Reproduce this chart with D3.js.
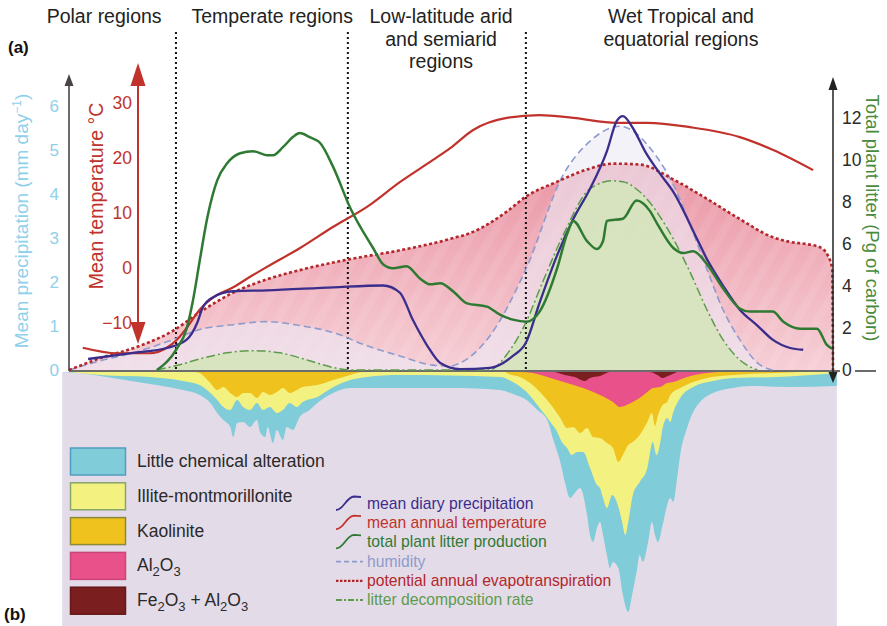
<!DOCTYPE html>
<html>
<head>
<meta charset="utf-8">
<script src="https://cdn.jsdelivr.net/npm/d3@7"></script>
<style>
  body { margin: 0; background: #fff; }
  svg { display: block; font-family: "Liberation Sans", Arial, sans-serif; }
</style>
</head>
<body>
<svg id="chart" width="887" height="626"></svg>
<script>
// position along the transect is 0..100 (pole -> equator)

// panel (a) curves: [position, value]
const precipitation = [[2.5,0.25],[8.4,0.39],[12.8,0.50],[15.4,0.69],[16.8,1.08],[17.5,1.42],[18.8,1.65],[21.5,1.79],[25.9,1.81],[34.6,1.88],[41.1,1.92],[43.3,1.76],[45.0,1.14],[46.9,0.55],[48.6,0.16],[51.2,0.02],[55.1,0.05],[58.1,0.32],[59.8,0.62],[61.6,1.53],[63.9,2.61],[66.0,3.43],[68.2,4.12],[70.4,4.97],[71.7,5.66],[72.5,5.77],[73.8,5.50],[75.4,4.97],[77.4,4.45],[79.1,4.05],[82.2,2.98],[83.5,2.52],[85.6,1.92],[87.8,1.37],[90.1,1.01],[92.1,0.69],[94.4,0.50],[96.1,0.46]];
const temperature = [[1.8,-14.5],[6.3,-15.5],[10.6,-15.5],[12.8,-14.5],[14.1,-13.1],[15.4,-10.9],[17.1,-7.6],[19.4,-4.9],[21.5,-3.5],[23.7,-1.6],[25.9,0.2],[30.2,3.6],[34.6,7.5],[39.0,11.1],[43.3,15.6],[47.6,19.6],[49.9,21.8],[52.9,25.1],[57.3,27.3],[61.6,27.8],[66.0,27.3],[71.7,26.4],[75.7,26.4],[81.3,25.6],[87.8,23.8],[92.1,21.5],[97.4,17.8]];
const litter = [[11.5,0],[14.1,1.01],[15.4,1.97],[16.2,3.26],[17.1,5.18],[18.1,7.25],[19.4,9.03],[20.7,9.84],[22.4,10.32],[24.1,10.42],[25.9,10.23],[26.7,10.23],[28.0,10.61],[29.3,11.09],[30.2,11.28],[31.5,11.09],[32.9,10.80],[34.6,9.65],[36.8,7.73],[39.8,5.81],[41.1,5.04],[42.4,4.85],[44.2,4.94],[45.9,4.37],[47.3,4.08],[48.6,4.13],[50.3,3.74],[52.1,3.17],[54.7,3.02],[56.4,2.64],[58.1,2.40],[59.9,2.30],[61.6,2.78],[63.9,4.85],[65.2,6.48],[66.0,7.1],[67.8,6.14],[69.1,5.76],[69.9,6.14],[70.4,7.1],[72.5,7.2],[74.3,8.07],[76.0,7.59],[77.0,6.96],[79.1,5.81],[80.4,5.57],[81.7,5.66],[83.5,5.04],[85.6,3.89],[87.8,2.93],[89.1,2.78],[92.1,2.78],[93.5,2.30],[95.7,1.97],[97.9,1.97],[99.2,1.20],[99.9,1.01]];
const humidity = [[0,0],[4.1,0.21],[8.4,0.39],[13.6,0.69],[17.1,0.92],[21.5,1.03],[25.9,1.10],[30.2,1.01],[34.6,0.85],[39.0,0.55],[43.3,0.32],[47.6,0.11],[49.9,0.09],[51.2,0.16],[55.1,0.78],[59.8,2.29],[64.7,4.44],[68.2,5.20],[72.1,5.54],[76.4,4.97],[79.1,4.21],[81.3,3.30],[83.5,2.29],[85.6,1.37],[87.8,0.69],[90.1,0.16],[92.1,0]];
const evapotranspiration = [[0,0],[4.1,0.27],[9.3,0.55],[13.6,0.89],[17.1,1.31],[21.5,1.76],[25.9,2.06],[30.2,2.27],[36.8,2.52],[43.3,2.72],[49.9,2.98],[52.9,3.14],[57.3,3.60],[59.8,3.94],[63.9,4.28],[68.2,4.58],[71.2,4.69],[74.7,4.67],[79.1,4.33],[83.5,3.89],[87.8,3.43],[92.1,3.02],[94.4,2.91],[96.6,2.86],[98.3,2.79],[99.3,2.61],[99.9,2.29],[100,0]];
const decomposition = [[11.5,0],[14.5,0.12],[17.1,0.25],[20.7,0.39],[24.1,0.44],[27.6,0.39],[31.5,0.21],[34.5,0.06],[36.8,0],[55.0,0],[57.5,0.4],[59.8,1.08],[62.0,2.0],[64.7,3.07],[68.2,4.12],[71.2,4.30],[72.5,4.28],[74.7,4.05],[79.1,2.98],[81.3,2.22],[83.5,1.37],[85.6,0.69],[87.8,0.23],[90.1,0]];

// panel (b) weathering zones: [position, depth of zone base]
const littleAlteration = [[-0.9,0],[1.2,0.4],[4.1,1.6],[7.3,3.2],[10.6,4.8],[14.9,7.2],[17.1,9.2],[18.5,12.4],[19.4,16.4],[20.2,19.2],[21.1,22.0],[21.5,26.0],[22.0,20.4],[22.8,20.0],[23.7,22.0],[24.6,19.2],[25.0,24.0],[25.7,26.0],[26.0,22.0],[26.7,28.4],[27.2,23.2],[28.0,27.2],[28.5,22.0],[29.3,23.2],[30.2,18.0],[31.5,15.2],[32.5,12.4],[34.6,8.4],[36.8,6.4],[43.3,6.4],[49.9,6.4],[56.4,7.2],[58.1,8.8],[59.9,11.2],[61.3,15.2],[62.6,19.2],[63.4,27.2],[64.3,36.0],[64.9,44.0],[65.6,50.4],[66.0,49.2],[66.9,46.4],[67.8,57.2],[68.2,65.2],[68.6,68.0],[69.1,62.4],[69.5,60.0],[69.9,65.2],[70.4,73.2],[70.8,78.4],[71.2,76.0],[71.9,78.4],[72.5,89.2],[73.2,96.0],[73.7,89.2],[74.3,80.0],[74.7,73.2],[75.1,76.0],[75.8,68.0],[76.3,60.0],[76.7,65.2],[77.1,68.0],[77.7,61.2],[78.3,53.2],[78.7,50.4],[79.1,52.0],[79.6,42.4],[80.0,33.2],[80.9,22.4],[81.7,16.0],[82.6,12.0],[84.3,8.4],[86.9,6.4],[89.1,5.6],[94.4,6.0],[100.5,5.6]];
const illite = [[0,0],[1.2,0.4],[4.1,1.2],[10.6,2.0],[14.9,3.6],[17.1,5.2],[18.5,8.4],[19.4,11.2],[20.2,14.0],[21.1,15.2],[22.0,11.2],[22.8,14.0],[23.7,15.2],[24.6,12.4],[25.4,15.2],[26.3,14.0],[27.2,16.4],[28.0,15.2],[28.9,12.4],[29.8,14.0],[30.6,12.0],[32.5,10.0],[34.6,6.0],[36.8,3.2],[39.0,2.0],[43.3,1.2],[56.4,2.0],[58.1,4.0],[59.9,8.0],[61.6,14.4],[63.0,20.0],[63.9,24.0],[64.5,28.0],[65.2,30.4],[65.8,33.2],[66.5,32.0],[67.3,32.0],[68.2,38.4],[69.1,45.2],[69.5,46.4],[69.9,50.4],[70.4,54.4],[71.1,49.2],[71.7,52.0],[72.4,60.0],[72.8,65.2],[73.2,60.0],[73.8,49.2],[74.7,44.0],[75.7,38.4],[76.0,33.2],[76.4,28.0],[76.9,33.2],[77.4,28.0],[77.7,22.4],[78.3,18.4],[78.7,20.0],[79.1,16.0],[80.0,10.4],[81.7,6.0],[84.3,3.6],[86.9,2.4],[92.7,2.0],[100.5,0.4]];
const kaolinite = [[16.5,0],[17.1,0.4],[18.5,4.4],[19.4,7.2],[20.2,6.0],[21.1,8.4],[22.0,10.0],[22.8,8.4],[23.7,8.4],[24.6,10.4],[25.4,8.0],[26.3,9.2],[27.2,8.0],[28.0,6.4],[28.9,8.4],[29.8,7.2],[30.6,6.0],[32.5,5.2],[34.6,3.2],[36.8,1.2],[38.5,0],[57.1,0],[57.3,0.4],[59.0,2.0],[60.7,5.2],[62.0,9.2],[63.4,14.4],[64.3,18.4],[65.2,22.4],[66.0,22.0],[66.9,24.4],[67.8,22.4],[68.6,26.0],[69.5,26.4],[70.4,28.4],[71.2,30.4],[71.9,36.0],[72.5,33.2],[73.2,29.2],[73.8,28.0],[74.7,25.2],[75.7,20.0],[76.3,16.4],[76.7,21.6],[77.1,17.2],[77.7,13.2],[78.3,12.0],[78.7,9.2],[80.0,6.4],[81.7,4.0],[83.5,2.4],[86.9,1.2],[89.1,0.8],[95.7,0]];
const aluminaZone = [[59.0,0],[60.7,0.4],[63.0,2.4],[65.2,4.4],[67.3,6.4],[69.5,9.2],[71.2,12.0],[72.1,14.0],[73.0,13.2],[73.8,12.0],[74.7,10.4],[75.7,8.0],[76.4,6.4],[77.4,6.0],[78.3,4.4],[79.1,4.0],[80.9,2.0],[82.6,0.8],[85.2,0]];
const ironAluminaZone = [[63.6,0],[64.9,1.2],[66.2,2.0],[67.5,3.6],[68.2,2.4],[69.5,1.6],[70.8,0],[76.0,0],[77.0,1.2],[77.7,2.4],[78.4,1.6],[79.6,0]];

const regionBounds = [14.0, 36.5, 59.8];
const regionNames = [["Polar regions"], ["Temperate regions"], ["Low-latitude arid", "and semiarid", "regions"], ["Wet Tropical and", "equatorial regions"]];
const regionCentres = [4.6, 26.6, 48.7, 80.1];

const precipTicks = [0, 1, 2, 3, 4, 5, 6];
const tempTicks = [-10, 0, 10, 20, 30];
const litterTicks = [0, 2, 4, 6, 8, 10, 12];

const zoneLabels = ["Little chemical alteration", "Illite-montmorillonite", "Kaolinite", "Al2O3", "Fe2O3 + Al2O3"];
const zoneFills = ["#80ccd9", "#f3f17f", "#f0c21d", "#e8518a", "#7a1e1f"];
const zoneStrokes = ["#4f9dbf", "#86a56b", "#8a8a3a", "#c9467c", "#651818"];
const curveLabels = ["mean diary precipitation", "mean annual temperature", "total plant litter production", "humidity", "potential annual evapotranspiration", "litter decomposition rate"];
const curveColors = ["#3b2d8c", "#c0322b", "#2f7a32", "#8e9bcc", "#b3262a", "#5d9b4c"];

const svg = d3.select('#chart');

// scales
const x = d3.scaleLinear().domain([0, 100]).range([69, 833]);
const yPrecip = d3.scaleLinear().domain([0, 6]).range([370, 106]);
const yTemp = d3.scaleLinear().domain([-10, 30]).range([323, 103]);
const yLitter = d3.scaleLinear().domain([0, 12]).range([370, 118]);
const yDepth = d3.scaleLinear().domain([0, 100]).range([372, 622]);

const lineOn = yS => d3.line().x(d => x(d[0])).y(d => yS(d[1])).curve(d3.curveMonotoneX);
const areaOn = yS => d3.area().x(d => x(d[0])).y0(yS(0)).y1(d => yS(d[1])).curve(d3.curveMonotoneX);

// defs: gradient + faint stripes for the evapotranspiration area
const defs = svg.append('defs');
const grad = defs.append('linearGradient').attr('id', 'petGrad')
  .attr('gradientUnits', 'userSpaceOnUse').attr('x1', 0).attr('x2', 0).attr('y1', 160).attr('y2', 370);
grad.append('stop').attr('offset', 0).attr('stop-color', '#ea94a3');
grad.append('stop').attr('offset', 1).attr('stop-color', '#f6cfd6');
const pat = defs.append('pattern').attr('id', 'stripes').attr('patternUnits', 'userSpaceOnUse')
  .attr('width', 18).attr('height', 18).attr('patternTransform', 'rotate(30)');
pat.append('rect').attr('width', 8).attr('height', 18).attr('fill', '#fff').attr('opacity', 0.07);

// ---- panel (b) ----
svg.append('rect')
  .attr('x', x(-0.9)).attr('y', yDepth(0)).attr('width', x(100.5) - x(-0.9)).attr('height', 626 - yDepth(0))
  .attr('fill', '#e4dbe8');

const zoneArea = d3.area().x(d => x(d[0])).y0(yDepth(0)).y1(d => yDepth(d[1])).curve(d3.curveMonotoneX);
[littleAlteration, illite, kaolinite, aluminaZone, ironAluminaZone].forEach((z, i) => {
  svg.append('path').attr('d', zoneArea(z)).attr('fill', zoneFills[i]);
});

// ---- panel (a) fills ----
svg.append('path').attr('d', areaOn(yPrecip)(evapotranspiration)).attr('fill', 'url(#petGrad)');
svg.append('path').attr('d', areaOn(yPrecip)(evapotranspiration)).attr('fill', 'url(#stripes)');
svg.append('path').attr('d', areaOn(yPrecip)(humidity)).attr('fill', '#ece9f5').attr('opacity', 0.6);
svg.append('path').attr('d', areaOn(yPrecip)(decomposition)).attr('fill', '#d6e4bd').attr('opacity', 0.95);

// region boundaries
svg.selectAll('line.bound').data(regionBounds).enter().append('line')
  .attr('x1', d => x(d)).attr('x2', d => x(d)).attr('y1', 32).attr('y2', 371)
  .attr('stroke', '#111').attr('stroke-width', 2).attr('stroke-dasharray', '2,3');

// baseline
svg.append('line').attr('x1', 69).attr('x2', 840).attr('y1', 371).attr('y2', 371)
  .attr('stroke', '#3b3b3b').attr('stroke-width', 1.5);
svg.append('line').attr('x1', 855).attr('x2', 876).attr('y1', 371).attr('y2', 371)
  .attr('stroke', '#3b3b3b').attr('stroke-width', 1.5);

// ---- panel (a) curves ----
svg.append('path').attr('d', lineOn(yPrecip)(humidity)).attr('fill', 'none')
  .attr('stroke', curveColors[3]).attr('stroke-width', 1.6).attr('stroke-dasharray', '7,4');
svg.append('path').attr('d', lineOn(yPrecip)(decomposition)).attr('fill', 'none')
  .attr('stroke', curveColors[5]).attr('stroke-width', 1.5).attr('stroke-dasharray', '9,3,2,3');
svg.append('path').attr('d', lineOn(yPrecip)(evapotranspiration)).attr('fill', 'none')
  .attr('stroke', curveColors[4]).attr('stroke-width', 2.6).attr('stroke-dasharray', '3,2.5');
svg.append('path').attr('d', lineOn(yTemp)(temperature)).attr('fill', 'none')
  .attr('stroke', curveColors[1]).attr('stroke-width', 2.2);
svg.append('path').attr('d', lineOn(yPrecip)(precipitation)).attr('fill', 'none')
  .attr('stroke', curveColors[0]).attr('stroke-width', 2.3);
svg.append('path').attr('d', lineOn(yLitter)(litter)).attr('fill', 'none')
  .attr('stroke', curveColors[2]).attr('stroke-width', 2.5);

// ---- axes ----
const precipAxis = svg.append('g').attr('transform', 'translate(69,0)')
  .call(d3.axisLeft(yPrecip).tickValues(precipTicks).tickFormat(d3.format('d')).tickSize(0).tickPadding(10));
precipAxis.select('.domain').remove();
precipAxis.selectAll('text').attr('fill', '#8fd0ea').style('font-size', '17px').style('font-family', '"Liberation Sans", Arial, sans-serif');

svg.append('line').attr('x1', 69).attr('x2', 69).attr('y1', 371).attr('y2', 84)
  .attr('stroke', '#4a4343').attr('stroke-width', 1.6);
svg.append('path').attr('d', 'M64.5,86 L69,74 L73.5,86 Z').attr('fill', '#4a4343');

const tempAxis = svg.append('g').attr('transform', 'translate(138,0)')
  .call(d3.axisLeft(yTemp).tickValues(tempTicks).tickSize(0).tickPadding(6));
tempAxis.select('.domain').remove();
tempAxis.selectAll('text').attr('fill', '#c0322b').style('font-size', '17.5px').style('font-family', '"Liberation Sans", Arial, sans-serif');

svg.append('line').attr('x1', 138).attr('x2', 138).attr('y1', 80).attr('y2', 328)
  .attr('stroke', '#c0322b').attr('stroke-width', 2);
svg.append('path').attr('d', 'M130.5,86 L138,63 L145.5,86 Z').attr('fill', '#c0322b');
svg.append('path').attr('d', 'M130.5,322 L138,344 L145.5,322 Z').attr('fill', '#c0322b');

const litterAxis = svg.append('g').attr('transform', 'translate(833,0)')
  .call(d3.axisRight(yLitter).tickValues(litterTicks).tickSize(0).tickPadding(9));
litterAxis.select('.domain').remove();
litterAxis.selectAll('text').attr('fill', '#2b2b2b').style('font-size', '17.5px').style('font-family', '"Liberation Sans", Arial, sans-serif');

svg.append('line').attr('x1', 833).attr('x2', 833).attr('y1', 88).attr('y2', 375)
  .attr('stroke', '#222').attr('stroke-width', 1.5);
svg.append('path').attr('d', 'M828.5,90 L833,77 L837.5,90 Z').attr('fill', '#222');
svg.append('path').attr('d', 'M828.5,372 L833,383 L837.5,372 Z').attr('fill', '#222');

// axis titles
const pt = svg.append('text').attr('transform', 'translate(28,221) rotate(-90)')
  .attr('text-anchor', 'middle').attr('fill', '#8fd0ea').style('font-size', '19px');
pt.append('tspan').text('Mean precipitation (mm day');
pt.append('tspan').attr('dy', -7).style('font-size', '12px').text('−1');
pt.append('tspan').attr('dy', 7).text(')');

svg.append('text').attr('transform', 'translate(103,196) rotate(-90)')
  .attr('text-anchor', 'middle').attr('fill', '#c0322b').style('font-size', '19.5px')
  .text('Mean temperature °C');

svg.append('text').attr('transform', 'translate(866,218) rotate(90)')
  .attr('text-anchor', 'middle').attr('fill', '#4a8a3b').style('font-size', '18.5px')
  .text('Total plant litter (Pg of carbon)');

// region titles
regionNames.forEach((lines, i) => {
  const t = svg.append('text').attr('text-anchor', 'middle').attr('fill', '#222').style('font-size', '19.5px');
  lines.forEach((s, j) => {
    t.append('tspan').attr('x', x(regionCentres[i])).attr('y', 23 + j * 22.5).text(s);
  });
});

// panel tags
svg.append('text').attr('x', 8).attr('y', 53).style('font-size', '17px').style('font-weight', 'bold').attr('fill', '#111').text('(a)');
svg.append('text').attr('x', 4).attr('y', 620).style('font-size', '17px').style('font-weight', 'bold').attr('fill', '#111').text('(b)');

// ---- zone legend ----
// writes "Al2O3"-style strings with subscript digits
const subText = (t, s) => {
  let low = false;
  s.split(/(\d)/).filter(p => p !== '').forEach(p => {
    const isDigit = /\d/.test(p);
    const dy = isDigit === low ? 0 : (isDigit ? 5 : -5);
    const sp = t.append('tspan').attr('dy', dy).text(p);
    if (isDigit) sp.style('font-size', '13px');
    low = isDigit;
  });
};
zoneLabels.forEach((lab, i) => {
  const top = 448 + i * 34.8;
  svg.append('rect').attr('x', 70.5).attr('y', top).attr('width', 55).attr('height', 27)
    .attr('fill', zoneFills[i]).attr('stroke', zoneStrokes[i]).attr('stroke-width', 1.5);
  const t = svg.append('text').attr('x', 137).attr('y', top + 19).attr('fill', '#2a2a2a').style('font-size', '17.5px');
  subText(t, lab);
});

// ---- curve legend ----
curveLabels.forEach((lab, i) => {
  const base = 509 + i * 19.2;
  const mid = base - 5;
  if (i < 3) {
    svg.append('path')
      .attr('d', `M336,${mid + 6} C344,${mid + 6} 346,${mid - 7} 354,${mid - 7.5} L361,${mid - 7}`)
      .attr('fill', 'none').attr('stroke', curveColors[i]).attr('stroke-width', 1.8);
  } else {
    const dash = i === 3 ? '5,3' : (i === 4 ? '2.5,1.5' : '6,2,2,2');
    svg.append('line').attr('x1', 336).attr('x2', 363).attr('y1', mid).attr('y2', mid)
      .attr('stroke', curveColors[i]).attr('stroke-width', i === 4 ? 2.2 : 1.8).attr('stroke-dasharray', dash);
  }
  svg.append('text').attr('x', 367).attr('y', base).attr('fill', curveColors[i])
    .style('font-size', '15.7px').text(lab);
});
</script>
</body>
</html>
